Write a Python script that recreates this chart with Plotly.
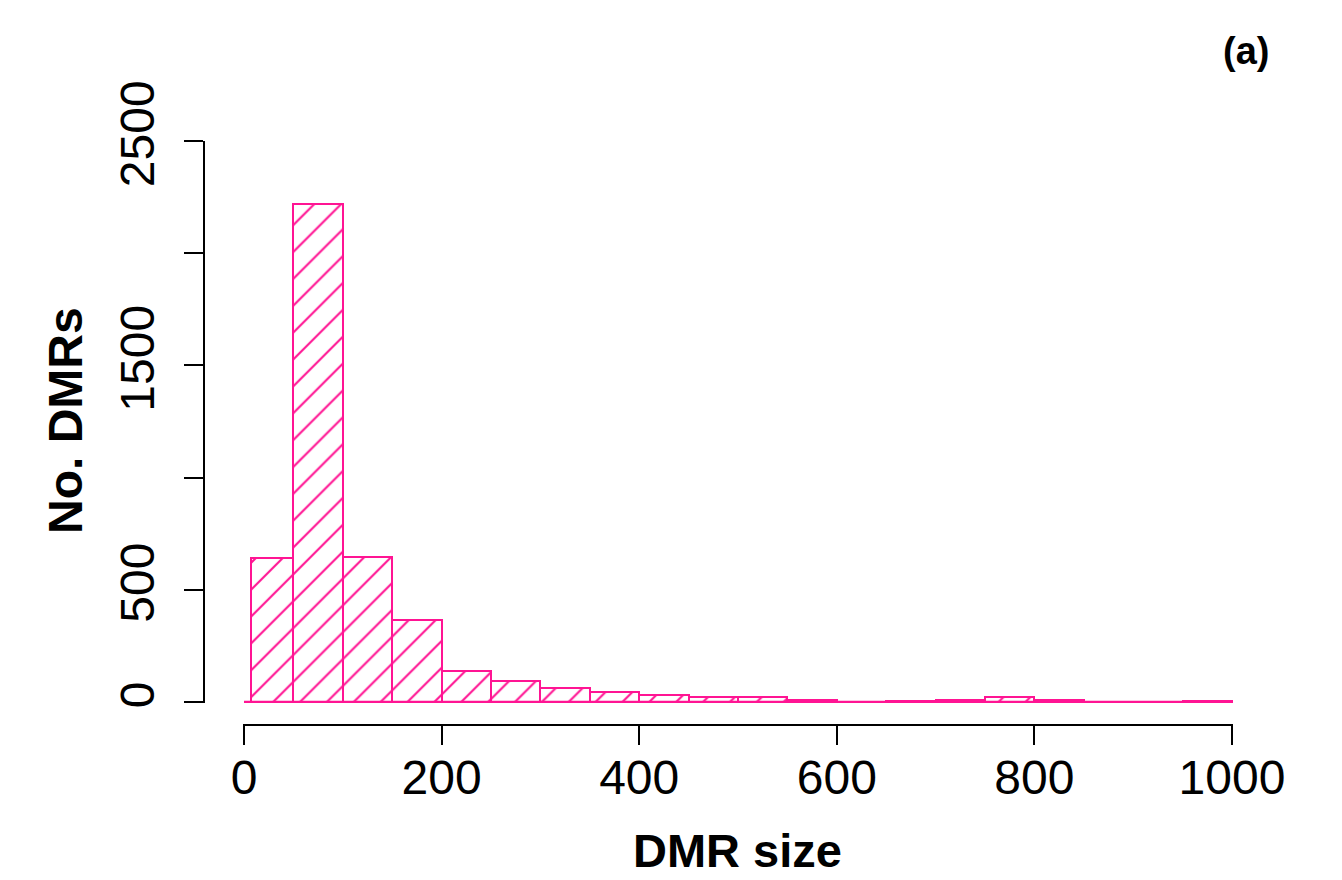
import plotly.graph_objects as go

# ---- data ----
bin_left = [0, 7, 50, 100, 150, 200, 250, 300, 350, 400, 450, 500, 550, 600, 650, 700, 750, 800, 850, 900, 950]
bin_right = [7, 50, 100, 150, 200, 250, 300, 350, 400, 450, 500, 550, 600, 650, 700, 750, 800, 850, 900, 950, 1000]
counts = [0, 640, 2219, 645, 365, 138, 92, 61, 46, 31, 22, 22, 10, 0, 4, 8, 22, 8, 0, 0, 6]
x_ticks = [0, 200, 400, 600, 800, 1000]
x_labels = ["0", "200", "400", "600", "800", "1000"]
y_ticks = [0, 500, 1000, 1500, 2000, 2500]
y_labels = ["0", "500", "", "1500", "", "2500"]

PINK = "#FF1493"
FONT = "Liberation Sans, Arial, sans-serif"

OFF = 8  # page body margin
W, H = 1342 - OFF, 880 - OFF
ML, MR, MT, MB = 192, 100, 122, 150
PW, PH = W - ML - MR, H - MT - MB


def px_x(p):
    return (p - OFF - ML) / PW


def px_y(p):
    return (H - MB - (p - OFF)) / PH


centers = [(a + b) / 2 for a, b in zip(bin_left, bin_right)]
widths = [b - a for a, b in zip(bin_left, bin_right)]

fig = go.Figure()
fig.add_trace(go.Bar(
    x=centers, y=counts, width=widths,
    marker=dict(
        color="white",
        line=dict(color=PINK, width=2),
        pattern=dict(shape="/", fgcolor=PINK, bgcolor="white", fgopacity=1,
                     size=19, solidity=0.11),
    ),
    showlegend=False, hoverinfo="skip",
))
fig.add_trace(go.Scatter(
    x=[bin_left[0], bin_right[-1]], y=[0, 0], mode="lines",
    line=dict(color=PINK, width=2.5), showlegend=False, hoverinfo="skip",
    cliponaxis=False,
))

fig.update_layout(
    width=W, height=H,
    margin=dict(l=ML, r=MR, t=MT, b=MB, autoexpand=False),
    paper_bgcolor="white", plot_bgcolor="white",
    font=dict(family=FONT, color="black"),
    bargap=0,
    xaxis=dict(
        range=[-1, 1001], domain=[px_x(243), px_x(1233)],
        anchor="free", position=px_y(725), automargin=False,
        showgrid=False, zeroline=False, showline=True, linecolor="black", linewidth=1.5,
        ticks="outside", ticklen=19, tickwidth=1.5, tickcolor="black",
        tickvals=x_ticks, ticktext=x_labels, ticklabelstandoff=-8,
        tickfont=dict(size=48, family=FONT, color="black"),
    ),
    yaxis=dict(
        range=[-4, 2500], domain=[px_y(703), px_y(141)],
        anchor="free", position=px_x(204), automargin=False,
        showgrid=False, zeroline=False, showline=True, linecolor="black", linewidth=1.5,
        ticks="outside", ticklen=19, tickwidth=1.5, tickcolor="black",
        tickvals=y_ticks, ticktext=y_labels, tickangle=-90, ticklabelstandoff=11,
        tickfont=dict(size=48, family=FONT, color="black"),
    ),
    annotations=[
        dict(text="<b>DMR size</b>", x=px_x(737), y=px_y(850), xref="paper", yref="paper",
             showarrow=False, xanchor="center", yanchor="middle",
             font=dict(size=47, family=FONT, color="black")),
        dict(text="<b>No. DMRs</b>", x=px_x(65), y=px_y(421), xref="paper", yref="paper",
             showarrow=False, xanchor="center", yanchor="middle", textangle=-90,
             font=dict(size=48, family=FONT, color="black")),
        dict(text="<b>(a)</b>", x=px_x(1246), y=px_y(51), xref="paper", yref="paper",
             showarrow=False, xanchor="center", yanchor="middle",
             font=dict(size=38, family=FONT, color="black")),
    ],
)

fig.write_html("out.html")
